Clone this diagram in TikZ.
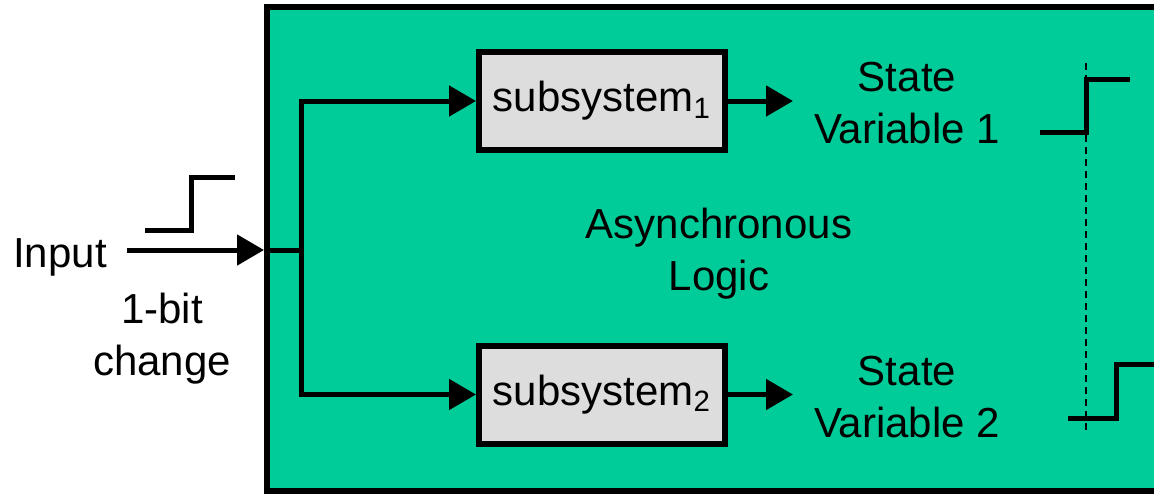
\documentclass[tikz,border=0pt]{standalone}
\usepackage{fontspec}
\setmainfont{Liberation Sans}
\usetikzlibrary{arrows.meta}
\definecolor{logicgreen}{HTML}{00CC99}
\definecolor{boxgray}{HTML}{DDDDDD}

\begin{document}
\begin{tikzpicture}[x=0.5pt,y=-0.5pt,
        font=\fontsize{21}{26}\selectfont,
        wire/.style={line width=2.5pt},
        sigarrow/.style={wire,-{Triangle[length=13.5pt,width=15pt]}},
        subbox/.style={draw,line width=3pt,fill=boxgray,inner sep=0pt,
            minimum width=123pt,minimum height=49pt},
        txt/.style={align=center}]
            \useasboundingbox (0,0) rectangle (1154,495);
            \clip (0,0) rectangle (1154,495);

            % the logic block, running off to the right
            \filldraw[fill=logicgreen,line width=3pt] (267,7) rectangle (1220,491);

            \node[subbox] (sub1) at (602,101) {subsystem\textsubscript{1}};
            \node[subbox] (sub2) at (602,394.5) {subsystem\textsubscript{2}};
            \node[txt] (sv1) at (907,103) {State\\Variable 1};
            \node[txt] (sv2) at (907,397) {State\\Variable 2};
            \node[txt] (logic) at (719,254) {Asynchronous\\Logic};
            \node[anchor=base] (input) at (60,267) {Input};
            \node[txt] (change) at (162,339) {1-bit\\change};

            \coordinate (inp) at (127,250);
            \coordinate (entry) at (264,250);
            \coordinate (split) at (301,250);
            \coordinate (out1) at (793,101);
            \coordinate (out2) at (793,394.5);

            \draw[sigarrow] (inp) -- (entry);
            \draw[wire] (entry) -- (split);
            \draw[sigarrow] (split) |- (sub1.west);
            \draw[sigarrow] (split) |- (sub2.west);
            \draw[sigarrow] (sub1.east) -- (out1);
            \draw[sigarrow] (sub2.east) -- (out2);

            % steps
            \draw[wire] (145,230) -| (191,177) -- (235,177);
            \draw[wire] (1040,132) -| (1086,79) -- (1130,79);
            \draw[wire] (1068,418) -| (1116,364) -- (1170,364);
            \draw[line width=1pt,dash pattern=on 3.5pt off 2.5pt] (1086,63) -- (1086,433);
        \end{tikzpicture}
\end{document}
